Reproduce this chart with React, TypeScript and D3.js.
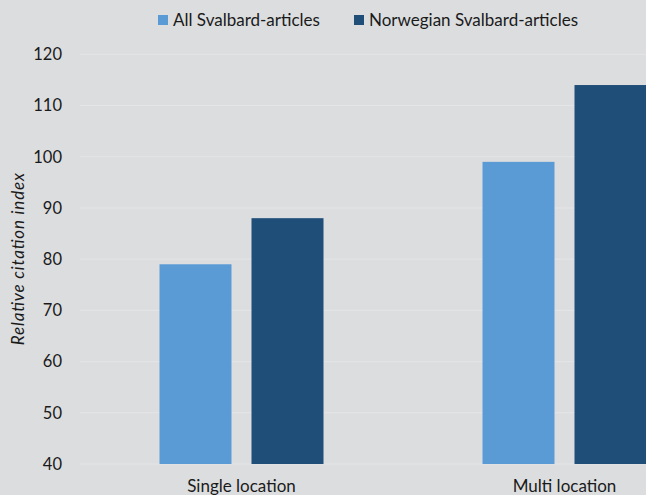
import React, { useEffect, useRef } from "react";
import * as d3 from "d3";

// categories on the x axis
const categories = ["Single location", "Multi location"];
// series names (legend)
const seriesNames = ["All Svalbard-articles", "Norwegian Svalbard-articles"];
// values, one per category
const allArticles = [79, 99];
const norwegianArticles = [88, 114];
const yTicks = [40, 50, 60, 70, 80, 90, 100, 110, 120];
const colors = ["#5b9bd5", "#1f4e79"];

const W = 646;
const H = 495;

export default function App() {
  const ref = useRef<SVGSVGElement>(null);

  useEffect(() => {
    const svg = d3.select(ref.current);
    svg.selectAll("*").remove();

    const font = "Lato, 'Open Sans', sans-serif";
    const series = [allArticles, norwegianArticles];

    svg.append("rect").attr("width", W).attr("height", H).attr("fill", "#dcdddf");

    // plot area runs past the right edge, like the cropped original
    const x0 = d3.scaleBand<string>().domain(categories).range([80, 726]).padding(0);
    const x1 = d3
      .scaleBand<string>()
      .domain(seriesNames)
      .range([79.5, 243.5])
      .paddingInner(20 / 92)
      .paddingOuter(0);
    const y = d3.scaleLinear().domain([40, 120]).range([464, 54.3]);

    // gridlines
    svg
      .append("g")
      .selectAll("line")
      .data(yTicks)
      .join("line")
      .attr("x1", 80)
      .attr("x2", W)
      .attr("y1", (d) => y(d))
      .attr("y2", (d) => y(d))
      .attr("stroke", "#e4e5e7")
      .attr("stroke-width", 1);

    // y tick labels
    svg
      .append("g")
      .selectAll("text")
      .data(yTicks)
      .join("text")
      .attr("x", 62)
      .attr("y", (d) => y(d))
      .attr("dy", "0.35em")
      .attr("text-anchor", "end")
      .attr("font-family", font)
      .attr("font-size", 16.5)
      .attr("fill", "#1a1a1a")
      .text((d) => d);

    // bars
    const groups = svg
      .append("g")
      .selectAll("g")
      .data(categories)
      .join("g")
      .attr("transform", (d) => `translate(${x0(d)},0)`);

    groups
      .selectAll("rect")
      .data((_, i) => seriesNames.map((s, j) => ({ s, v: series[j][i], j })))
      .join("rect")
      .attr("x", (d) => x1(d.s)!)
      .attr("y", (d) => y(d.v))
      .attr("width", x1.bandwidth())
      .attr("height", (d) => y(40) - y(d.v))
      .attr("fill", (d) => colors[d.j]);

    // category labels
    svg
      .append("g")
      .selectAll("text")
      .data(categories)
      .join("text")
      .attr("x", (d) => x0(d)! + x0.bandwidth() / 2)
      .attr("y", 492)
      .attr("text-anchor", "middle")
      .attr("font-family", font)
      .attr("font-size", 17)
      .attr("fill", "#1a1a1a")
      .text((d) => d);

    // y axis title
    svg
      .append("text")
      .attr("transform", `translate(24,${(y(40) + y(120)) / 2}) rotate(-90)`)
      .attr("text-anchor", "middle")
      .attr("font-family", font)
      .attr("font-style", "italic")
      .attr("font-size", 17)
      .attr("textLength", 172)
      .attr("lengthAdjust", "spacing")
      .attr("fill", "#1a1a1a")
      .text("Relative citation index");

    // legend
    const legendX = [158, 354];
    const legend = svg
      .append("g")
      .selectAll("g")
      .data(seriesNames)
      .join("g")
      .attr("transform", (_, i) => `translate(${legendX[i]},15)`);
    legend
      .append("rect")
      .attr("width", 10)
      .attr("height", 10)
      .attr("fill", (_, i) => colors[i]);
    legend
      .append("text")
      .attr("x", 15)
      .attr("y", 5)
      .attr("dy", "0.35em")
      .attr("font-family", font)
      .attr("font-size", 17)
      .attr("fill", "#1a1a1a")
      .text((d) => d);
  }, []);

  return (
    <svg
      ref={ref}
      width={W}
      height={H}
      style={{ position: "absolute", left: 0, top: 0, display: "block" }}
    />
  );
}
